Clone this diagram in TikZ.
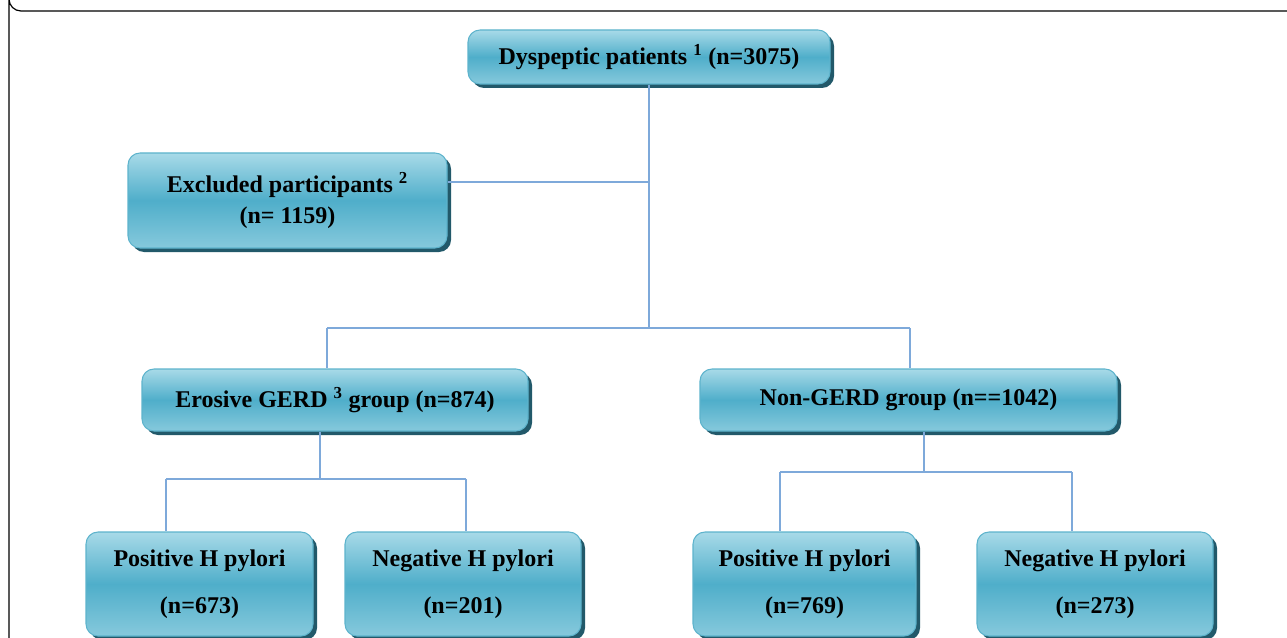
\documentclass[tikz,border=0pt]{standalone}
\usepackage{fontspec}
\setmainfont{Liberation Serif}
\usetikzlibrary{shadows}
\definecolor{boxtop}{HTML}{A8DAE8}
\definecolor{boxmid}{HTML}{4FAECA}
\definecolor{boxbot}{HTML}{86C9DC}
\definecolor{boxrim}{HTML}{5DB3CC}
\definecolor{shadowcol}{HTML}{22596A}
\definecolor{linkcol}{HTML}{7EA9DA}
\tikzset{
  flowbox/.style={rectangle, rounded corners=9pt, draw=boxrim, line width=0.8pt,
    top color=boxtop, bottom color=boxbot, middle color=boxmid,
    drop shadow={shadow xshift=3pt, shadow yshift=-3pt, fill=shadowcol, opacity=1},
    font=\fontsize{18}{21}\selectfont\bfseries, align=center, inner sep=0pt},
  link/.style={draw=linkcol, line width=0.9pt},
}
\begin{document}
\begin{tikzpicture}[x=0.75pt, y=-0.75pt]
\useasboundingbox (0,0) rectangle (1287,638);
% frame
\draw[line width=0.9pt, black] (1287,11) -- (21,11) arc[start angle=90, end angle=180, radius=12] -- (9,660);
% boxes
\node[flowbox, minimum width=271.5pt, minimum height=40.5pt] (dys) at (649,57) {Dyspeptic patients \textsuperscript{1} (n=3075)};
\node[flowbox, minimum width=239.25pt, minimum height=71.25pt] (exc) at (287.5,200.5) {Excluded participants \textsuperscript{2}\\[2pt](n= 1159)};
\node[flowbox, minimum width=289.5pt, minimum height=46.5pt] (ero) at (335,400) {Erosive GERD \textsuperscript{3} group (n=874)};
\node[flowbox, minimum width=312.75pt, minimum height=46.5pt] (non) at (908.5,400) {Non-GERD group (n==1042)};
\node[flowbox, minimum width=170.25pt, minimum height=78pt] (p1) at (199.5,584) {Positive H pylori\\[14pt](n=673)};
\node[flowbox, minimum width=177pt, minimum height=78pt] (n1) at (463,584) {Negative H pylori\\[14pt](n=201)};
\node[flowbox, minimum width=167.25pt, minimum height=78pt] (p2) at (804.5,584) {Positive H pylori\\[14pt](n=769)};
\node[flowbox, minimum width=177pt, minimum height=78pt] (n2) at (1095,584) {Negative H pylori\\[14pt](n=273)};
% junctions
\coordinate (jx) at (649,182);
\coordinate (jm) at (649,328);
\coordinate (ml) at (327,328);
\coordinate (mr) at (910,328);
\coordinate (je) at (320,479);
\coordinate (el) at (166,479);
\coordinate (er) at (466,479);
\coordinate (jn) at (924,472);
\coordinate (nl) at (780,472);
\coordinate (nr) at (1072,472);
% connectors
\draw[link] (dys.south) -- (jm);
\draw[link] (jx) -- (jx -| exc.east);
\draw[link] (ml) -- (mr);
\draw[link] (ml) -- (ml |- ero.north);
\draw[link] (mr) -- (mr |- non.north);
\draw[link] (je |- ero.south) -- (je);
\draw[link] (el) -- (er);
\draw[link] (el) -- (el |- p1.north);
\draw[link] (er) -- (er |- n1.north);
\draw[link] (jn |- non.south) -- (jn);
\draw[link] (nl) -- (nr);
\draw[link] (nl) -- (nl |- p2.north);
\draw[link] (nr) -- (nr |- n2.north);
\end{tikzpicture}
\end{document}
